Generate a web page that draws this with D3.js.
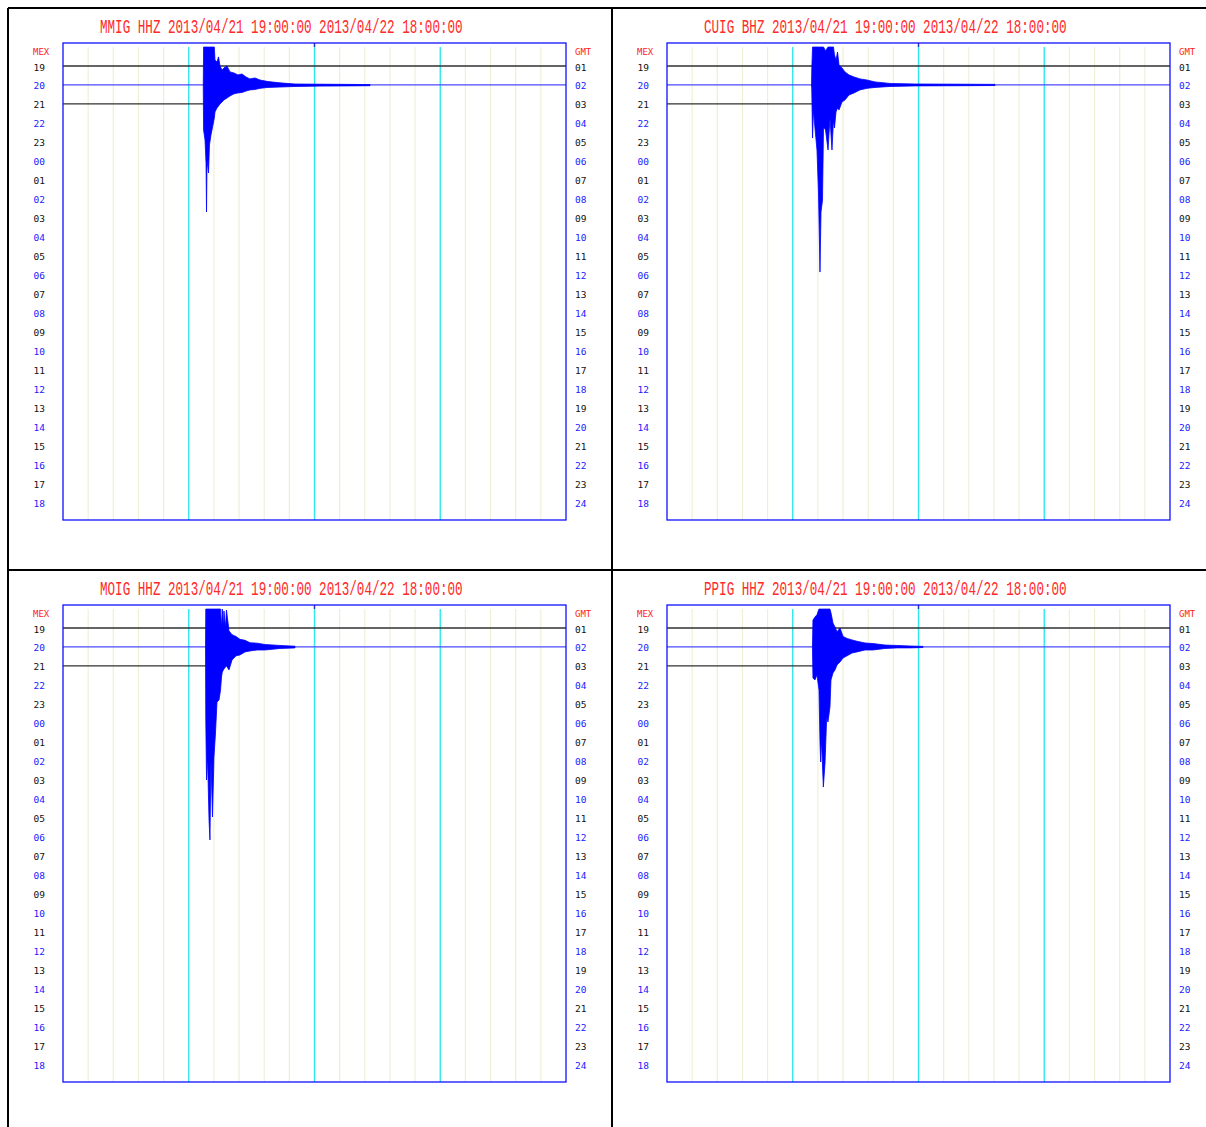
<!DOCTYPE html>
<html>
<head>
<meta charset="utf-8">
<script src="https://cdn.jsdelivr.net/npm/d3@7"></script>
<style>
  body { margin: 0; background: #fff; }
  .lbl { font-family: "DejaVu Sans Mono", "Liberation Mono", monospace; font-size: 9.5px; }
</style>
</head>
<body>
<svg id="mySvg" width="1206" height="1127"></svg>
<script>
// stations, one per panel (left to right, top to bottom)
const stations = ["MMIG HHZ", "CUIG BHZ", "MOIG HHZ", "PPIG HHZ"];
const startTime = "2013/04/21 19:00:00";
const endTime = "2013/04/22 18:00:00";

// hour labels, left (local) and right (GMT)
const mexHours = ["19","20","21","22","23","00","01","02","03","04","05","06",
                  "07","08","09","10","11","12","13","14","15","16","17","18"];
const gmtHours = ["01","02","03","04","05","06","07","08","09","10","11","12",
                  "13","14","15","16","17","18","19","20","21","22","23","24"];

// minute ticks of the time grid (every 3 min, strong every 15)
const gridMinutes = [3,6,9,12,15,18,21,24,27,30,33,36,39,42,45,48,51,54,57];
const majorMinutes = [15, 30, 45];

// rows that carry a trace: 0 = 19h, 1 = 20h (event row), 2 = 21h (ends at last sample)
const eventRow = 1;
const lastSampleMinute = [16.8, 17.9, 19.1, 19.6];

// event envelopes: [minute, upper amplitude, lower amplitude] in row units
const mmigEvent = [
  [16.73, 0, 0], [16.77, 2.0, -2.37], [16.94, 2.0, -2.90], [17.06, 2.0, -4.12],
  [17.12, 2.0, -6.70], [17.18, 2.0, -3.96], [17.36, 2.0, -4.64], [17.47, 2.0, -3.17],
  [17.65, 2.0, -2.64], [17.89, 2.0, -2.11], [18.05, 2.0, -1.74], [18.13, 1.32, -1.42],
  [18.37, 1.21, -1.21], [18.55, 1.48, -1.11], [18.73, 1.0, -1.0], [18.97, 0.79, -0.9],
  [19.2, 0.9, -0.79], [19.56, 1.0, -0.69], [19.92, 0.69, -0.58], [20.4, 0.63, -0.47],
  [20.87, 0.53, -0.42], [21.35, 0.58, -0.4], [21.83, 0.42, -0.32], [22.3, 0.32, -0.26],
  [22.9, 0.37, -0.24], [23.5, 0.26, -0.18], [24.45, 0.18, -0.13], [25.88, 0.11, -0.11],
  [27.67, 0.05, -0.08], [30.65, 0.04, -0.06], [33.64, 0.03, -0.05], [36.62, 0.02, -0.04]
];
const cuigEvent = [
  [17.24, 0, 0], [17.27, 0.79, -0.26], [17.36, 2.0, -2.80], [17.47, 2.0, -1.32],
  [17.65, 2.0, -2.27], [17.89, 2.0, -3.43], [18.07, 2.0, -5.7], [18.25, 2.0, -9.87],
  [18.37, 2.0, -6.7], [18.55, 2.0, -6.07], [18.67, 2.0, -2.22], [18.91, 1.8, -2.37],
  [19.21, 2.0, -3.43], [19.44, 2.0, -1.74], [19.68, 2.0, -3.43], [19.86, 2.0, -1.85],
  [19.98, 1.58, -2.27], [20.16, 1.32, -1.42], [20.34, 1.74, -1.21], [20.52, 1.06, -1.32],
  [20.87, 0.9, -0.9], [21.23, 0.69, -0.79], [21.71, 0.53, -0.53], [22.31, 0.42, -0.42],
  [23.02, 0.32, -0.26], [23.86, 0.26, -0.18], [24.81, 0.16, -0.13], [26.6, 0.08, -0.08],
  [29.58, 0.05, -0.05], [34.95, 0.04, -0.04], [39.12, 0.03, -0.03]
];
const moigEvent = [
  [17.0, 0, 0], [17.03, 2.0, -3.75], [17.12, 2.0, -7.02], [17.24, 2.0, -5.8],
  [17.42, 2.0, -9.13], [17.53, 2.0, -10.18], [17.65, 2.0, -5.96], [17.83, 2.0, -8.97],
  [18.01, 2.0, -5.8], [18.19, 2.0, -4.54], [18.37, 2.0, -2.9], [18.61, 2.0, -2.8],
  [18.79, 2.0, -2.27], [18.91, 1.0, -1.58], [19.0, 2.0, -1.32], [19.14, 1.05, -1.21],
  [19.2, 1.9, -1.16], [19.38, 1.0, -1.06], [19.5, 1.95, -1.0], [19.8, 0.85, -1.21],
  [20.16, 0.65, -0.69], [20.64, 0.55, -0.47], [21.11, 0.4, -0.42], [21.71, 0.35, -0.26],
  [22.31, 0.22, -0.21], [23.14, 0.2, -0.16], [24.09, 0.13, -0.16], [25.88, 0.08, -0.08],
  [27.67, 0.04, -0.05]
];
const ppigEvent = [
  [17.35, 0, 0], [17.41, 1.42, -1.64], [17.65, 1.58, -1.74], [17.89, 1.7, -1.48],
  [18.13, 2.0, -2.27], [18.25, 2.0, -5.07], [18.33, 2.0, -6.07], [18.43, 2.0, -4.91],
  [18.65, 2.0, -7.39], [18.85, 2.0, -6.12], [19.05, 2.0, -3.69], [19.2, 2.0, -3.96],
  [19.44, 2.0, -3.17], [19.56, 1.8, -1.74], [19.8, 1.26, -1.37], [20.04, 1.05, -1.21],
  [20.28, 0.8, -0.95], [20.64, 1.0, -0.79], [21.0, 0.55, -0.58], [21.47, 0.45, -0.47],
  [22.07, 0.37, -0.32], [22.66, 0.3, -0.26], [23.62, 0.21, -0.16], [24.57, 0.18, -0.16],
  [26.0, 0.1, -0.08], [27.43, 0.08, -0.05], [28.98, 0.05, -0.05], [30.53, 0.03, -0.03]
];
const events = [mmigEvent, cuigEvent, moigEvent, ppigEvent];

const svg = d3.select("#mySvg");

const panelOffsets = [[0, 0], [604, 0], [0, 562], [604, 562]];
const frame = { left: 63, right: 566, top: 43, bottom: 520 };

const x = d3.scaleLinear().domain([0, 60]).range([frame.left, frame.right]);
const y = d3.scaleLinear().domain([0, 23]).range([66, 502]);

const blue = "#0000ff";
const labelColor = (i) => (i % 2 === 0 ? "#111" : "#1a1aff");

stations.forEach((name, p) => {
  const g = svg.append("g")
    .attr("transform", `translate(${panelOffsets[p][0]},${panelOffsets[p][1]})`);

  g.append("clipPath").attr("id", `clip${p}`)
    .append("rect")
    .attr("x", frame.left).attr("y", frame.top)
    .attr("width", frame.right - frame.left).attr("height", frame.bottom - frame.top);

  // title: narrow, tall glyphs
  g.append("text")
    .attr("transform", "translate(100,33) scale(1,1.6)")
    .style("font-family", "'Liberation Mono', 'DejaVu Sans Mono', monospace")
    .style("font-size", "12.6px")
    .attr("fill", "#ff2a2a")
    .text(`${name} ${startTime} ${endTime}`);

  // grid
  g.selectAll(".grid")
    .data(gridMinutes)
    .enter()
    .append("line")
    .attr("x1", (d) => x(d)).attr("x2", (d) => x(d))
    .attr("y1", frame.top + 4).attr("y2", frame.bottom)
    .attr("stroke", (d) => (majorMinutes.includes(d) ? "#2ee8ee" : "#efefd6"))
    .attr("stroke-width", (d) => (majorMinutes.includes(d) ? 1.4 : 1.2));

  g.append("line")
    .attr("x1", x(30)).attr("x2", x(30))
    .attr("y1", frame.top).attr("y2", frame.top + 4)
    .attr("stroke", "#3030c0").attr("stroke-width", 1.5);

  // trace rows
  g.append("line")
    .attr("x1", x(0)).attr("x2", x(60))
    .attr("y1", y(0)).attr("y2", y(0))
    .attr("stroke", "#303030").attr("stroke-width", 1.3);
  g.append("line")
    .attr("x1", x(0)).attr("x2", x(lastSampleMinute[p]))
    .attr("y1", y(2)).attr("y2", y(2))
    .attr("stroke", "#303030").attr("stroke-width", 1.3);
  g.append("line")
    .attr("x1", x(0)).attr("x2", x(60))
    .attr("y1", y(eventRow)).attr("y2", y(eventRow))
    .attr("stroke", "#4a4aff").attr("stroke-width", 1.3);

  // event envelope
  const area = d3.area()
    .x((d) => x(d[0]))
    .y0((d) => y(eventRow - d[2]))
    .y1((d) => y(eventRow - d[1]));

  g.append("path")
    .datum(events[p])
    .attr("clip-path", `url(#clip${p})`)
    .attr("d", area)
    .attr("fill", blue)
    .attr("stroke", blue)
    .attr("stroke-width", 0.8)
    .attr("stroke-linejoin", "miter");

  // frame
  g.append("rect")
    .attr("x", frame.left).attr("y", frame.top)
    .attr("width", frame.right - frame.left).attr("height", frame.bottom - frame.top)
    .attr("fill", "none").attr("stroke", "#1010ff").attr("stroke-width", 1.3);

  // hour axes
  const left = g.append("g")
    .attr("class", "lbl")
    .attr("transform", `translate(${frame.left},0)`)
    .call(d3.axisLeft(y).tickValues(d3.range(24)).tickSize(0).tickPadding(18)
      .tickFormat((i) => mexHours[i]));
  const right = g.append("g")
    .attr("class", "lbl")
    .attr("transform", `translate(${frame.right},0)`)
    .call(d3.axisRight(y).tickValues(d3.range(24)).tickSize(0).tickPadding(9)
      .tickFormat((i) => gmtHours[i]));

  [left, right].forEach((ax) => {
    ax.select(".domain").remove();
    ax.attr("font-family", null).attr("font-size", null);
    ax.selectAll("text")
      .attr("dy", "0.42em")
      .attr("fill", (i) => labelColor(i));
  });

  g.append("text").attr("class", "lbl")
    .attr("x", frame.left - 30).attr("y", frame.top + 12)
    .attr("fill", "#ff2020").style("font-size", "9px")
    .text("MEX");
  g.append("text").attr("class", "lbl")
    .attr("x", frame.right + 9).attr("y", frame.top + 12)
    .attr("fill", "#ff2020").style("font-size", "9px")
    .text("GMT");
});

// panel borders
const borders = [
  [8, 8, 8, 1127], [612, 8, 612, 1127], [8, 8, 1206, 8], [8, 570, 1206, 570]
];
svg.selectAll(".border")
  .data(borders)
  .enter()
  .append("line")
  .attr("x1", (d) => d[0]).attr("y1", (d) => d[1])
  .attr("x2", (d) => d[2]).attr("y2", (d) => d[3])
  .attr("stroke", "#000").attr("stroke-width", 2);
</script>
</body>
</html>
